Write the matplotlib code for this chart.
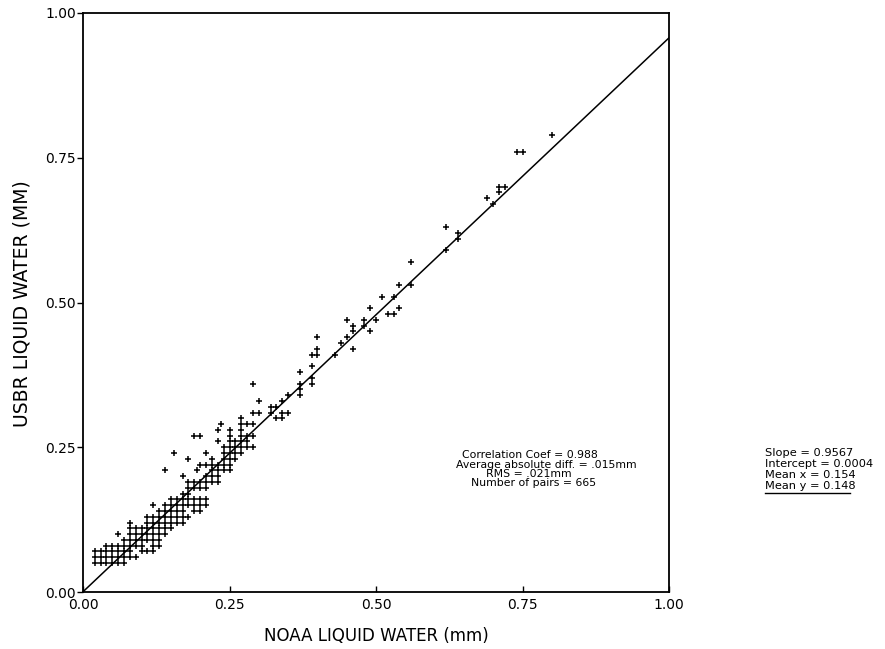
import matplotlib
matplotlib.use("Agg")
import matplotlib.pyplot as plt
import numpy as np

# NOAA (x) vs USBR (y) liquid water (mm)
noaa = [
    0.02, 0.03, 0.04, 0.05, 0.06, 0.07,
    0.02, 0.03, 0.04, 0.05, 0.06, 0.07, 0.08, 0.09,
    0.02, 0.03, 0.04, 0.05, 0.06, 0.07, 0.08, 0.10, 0.11, 0.12,
    0.04, 0.05, 0.06, 0.07, 0.08, 0.09, 0.10, 0.12, 0.13,
    0.07, 0.08, 0.09, 0.10, 0.11, 0.12, 0.13,
    0.06, 0.08, 0.09, 0.10, 0.11, 0.12, 0.13, 0.14,
    0.08, 0.09, 0.10, 0.11, 0.12, 0.13, 0.14, 0.15,
    0.08, 0.11, 0.12, 0.13, 0.14, 0.15, 0.16, 0.17,
    0.11, 0.12, 0.13, 0.14, 0.15, 0.16, 0.17, 0.18,
    0.13, 0.14, 0.15, 0.16, 0.17, 0.19, 0.20,
    0.12, 0.14, 0.15, 0.16, 0.17, 0.18, 0.19, 0.20, 0.21,
    0.15, 0.16, 0.17, 0.18, 0.19, 0.20, 0.21,
    0.17, 0.18,
    0.18, 0.19, 0.20, 0.21,
    0.18, 0.19, 0.20, 0.21, 0.22, 0.23,
    0.17, 0.21, 0.22, 0.23,
    0.14, 0.195, 0.22, 0.23, 0.24, 0.25,
    0.20, 0.21, 0.22, 0.23, 0.24, 0.25,
    0.18, 0.22, 0.24, 0.25, 0.26,
    0.155, 0.21, 0.24, 0.25, 0.26, 0.27,
    0.24, 0.25, 0.26, 0.27, 0.28, 0.29,
    0.23, 0.25, 0.26, 0.27, 0.28,
    0.19, 0.20, 0.25, 0.27, 0.28, 0.29,
    0.23, 0.25, 0.27,
    0.235, 0.27, 0.28, 0.29,
    0.27, 0.33, 0.34,
    0.29, 0.30, 0.32, 0.34, 0.35,
    0.32, 0.33,
    0.30, 0.34,
    0.35, 0.37,
    0.37,
    0.29, 0.37, 0.39,
    0.39,
    0.37,
    0.39,
    0.39, 0.40, 0.43,
    0.40, 0.46,
    0.44,
    0.40, 0.45,
    0.46, 0.49,
    0.46, 0.48,
    0.45, 0.48, 0.50,
    0.52, 0.53,
    0.49, 0.54,
    0.51, 0.53,
    0.54, 0.56,
    0.56,
    0.62,
    0.64,
    0.64,
    0.62,
    0.70,
    0.69,
    0.71,
    0.71, 0.72,
    0.74, 0.75,
    0.80,
]
usbr = [
    0.05, 0.05, 0.05, 0.05, 0.05, 0.05,
    0.06, 0.06, 0.06, 0.06, 0.06, 0.06, 0.06, 0.06,
    0.07, 0.07, 0.07, 0.07, 0.07, 0.07, 0.07, 0.07, 0.07, 0.07,
    0.08, 0.08, 0.08, 0.08, 0.08, 0.08, 0.08, 0.08, 0.08,
    0.09, 0.09, 0.09, 0.09, 0.09, 0.09, 0.09,
    0.10, 0.10, 0.10, 0.10, 0.10, 0.10, 0.10, 0.10,
    0.11, 0.11, 0.11, 0.11, 0.11, 0.11, 0.11, 0.11,
    0.12, 0.12, 0.12, 0.12, 0.12, 0.12, 0.12, 0.12,
    0.13, 0.13, 0.13, 0.13, 0.13, 0.13, 0.13, 0.13,
    0.14, 0.14, 0.14, 0.14, 0.14, 0.14, 0.14,
    0.15, 0.15, 0.15, 0.15, 0.15, 0.15, 0.15, 0.15, 0.15,
    0.16, 0.16, 0.16, 0.16, 0.16, 0.16, 0.16,
    0.17, 0.17,
    0.18, 0.18, 0.18, 0.18,
    0.19, 0.19, 0.19, 0.19, 0.19, 0.19,
    0.20, 0.20, 0.20, 0.20,
    0.21, 0.21, 0.21, 0.21, 0.21, 0.21,
    0.22, 0.22, 0.22, 0.22, 0.22, 0.22,
    0.23, 0.23, 0.23, 0.23, 0.23,
    0.24, 0.24, 0.24, 0.24, 0.24, 0.24,
    0.25, 0.25, 0.25, 0.25, 0.25, 0.25,
    0.26, 0.26, 0.26, 0.26, 0.26,
    0.27, 0.27, 0.27, 0.27, 0.27, 0.27,
    0.28, 0.28, 0.28,
    0.29, 0.29, 0.29, 0.29,
    0.30, 0.30, 0.30,
    0.31, 0.31, 0.31, 0.31, 0.31,
    0.32, 0.32,
    0.33, 0.33,
    0.34, 0.34,
    0.35,
    0.36, 0.36, 0.36,
    0.37,
    0.38,
    0.39,
    0.41, 0.41, 0.41,
    0.42, 0.42,
    0.43,
    0.44, 0.44,
    0.45, 0.45,
    0.46, 0.46,
    0.47, 0.47, 0.47,
    0.48, 0.48,
    0.49, 0.49,
    0.51, 0.51,
    0.53, 0.53,
    0.57,
    0.59,
    0.61,
    0.62,
    0.63,
    0.67,
    0.68,
    0.69,
    0.70, 0.70,
    0.76, 0.76,
    0.79,
]

slope = 0.9567
intercept = 0.0004
ticks = [0.0, 0.25, 0.5, 0.75, 1.0]
tick_labels = ["0.00", "0.25", "0.50", "0.75", "1.00"]

stats_center = [
    "Correlation Coef = 0.988",
    "Average absolute diff. = .015mm",
    "RMS = .021mm",
    "Number of pairs = 665",
]
stats_right = [
    "Slope = 0.9567",
    "Intercept = 0.0004",
    "Mean x = 0.154",
    "Mean y = 0.148",
]

W, H = 885, 649
fig = plt.figure(figsize=(W / 100, H / 100), dpi=100)
fig.patch.set_facecolor("white")
ax = fig.add_axes([83 / W, 1 - 592 / H, (669 - 83) / W, (592 - 13) / H])

ax.plot(noaa, usbr, linestyle="none", marker="+", markersize=4,
        markeredgewidth=1.1, color="black")
xl = np.array([0.0, 1.0])
ax.plot(xl, intercept + slope * xl, color="black", linewidth=1.1)

ax.set_xlim(0, 1)
ax.set_ylim(0, 1)
ax.set_xticks(ticks)
ax.set_xticklabels(tick_labels, fontsize=10)
ax.set_yticks(ticks)
ax.set_yticklabels(tick_labels, fontsize=10)
ax.tick_params(axis="x", direction="in", length=4, width=1, pad=4)
ax.tick_params(axis="y", direction="out", length=4, width=1, pad=1)
for s in ax.spines.values():
    s.set_linewidth(1.3)
    s.set_color("black")

fig.text(376 / W, 1 - 636 / H, "NOAA LIQUID WATER (mm)", fontsize=12,
         ha="center", va="center")
fig.text(22 / W, 1 - 304 / H, "USBR LIQUID WATER (MM)", fontsize=13.5,
         ha="center", va="center", rotation=90)

centers = [530, 546, 529, 534]
rows = [455, 465, 474, 483]
for t, cx, cy in zip(stats_center, centers, rows):
    fig.text(cx / W, 1 - cy / H, t, fontsize=7.8, ha="center", va="center")

rrows = [453, 464, 475, 486]
for t, cy in zip(stats_right, rrows):
    fig.text(765 / W, 1 - cy / H, t, fontsize=8.2, ha="left", va="center")
fig.add_artist(plt.Line2D([765 / W, 850 / W], [1 - 493 / H, 1 - 493 / H],
                          color="black", linewidth=1))

fig.savefig("out.png", dpi=100)
